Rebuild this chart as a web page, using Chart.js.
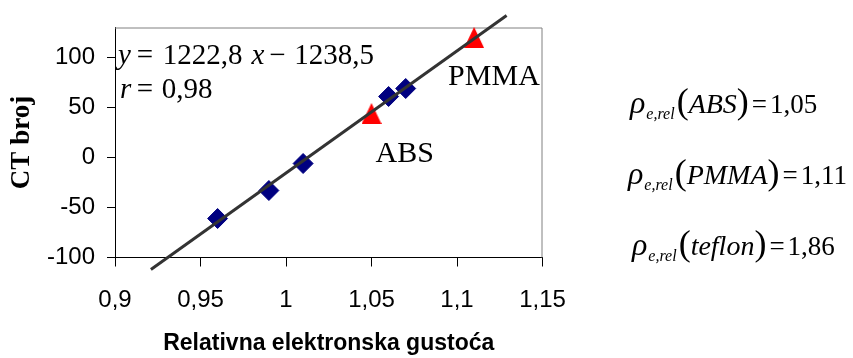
<!DOCTYPE html>
<html lang="hr">
<head>
<meta charset="UTF-8">
<title>CT broj - relativna elektronska gustoća</title>
<script src="https://cdn.jsdelivr.net/npm/chart.js@4.4.0/dist/chart.umd.min.js"></script>
<style>
    body { margin: 0; background: #fff; }
    #ctChart { display: block; }
</style>
</head>
<body>
<canvas id="ctChart" width="853" height="358"></canvas>
<script>
    // calibration phantoms (blue diamonds)
    const phantomX = [0.96, 0.99, 1.01, 1.06, 1.07];
    const phantomCT = [-61, -33, -6, 61, 69];

    // test materials (red triangles)
    const materialNames = ['ABS', 'PMMA'];
    const materialX = [1.05, 1.11];
    const materialCT = [44, 120];

    // ends of the fitted line y = 1222,8 x - 1238,5
    const fitX = [0.921, 1.129];
    const fitCT = [-112, 142];

    const xTickValues = [0.9, 0.95, 1, 1.05, 1.1, 1.15];
    const xTickLabels = ['0,9', '0,95', '1', '1,05', '1,1', '1,15'];
    const yTickValues = [-100, -50, 0, 50, 100];

    // relative electron densities listed on the right
    const rhoMaterials = ['ABS', 'PMMA', 'teflon'];
    const rhoValues = ['1,05', '1,11', '1,86'];

    const SERIF = '"Liberation Serif", "Times New Roman", serif';
    const SANS = 'Arial, "Liberation Sans", sans-serif';

    function toPoints(xs, ys) {
        return xs.map((x, i) => ({ x: x, y: ys[i] }));
    }

    // slightly tall red triangle, like the one in the original sheet
    function makeTriangle() {
        const c = document.createElement('canvas');
        c.width = 20;
        c.height = 21;
        const g = c.getContext('2d');
        g.fillStyle = '#ff0000';
        g.beginPath();
        g.moveTo(10, 0);
        g.lineTo(20, 21);
        g.lineTo(0, 21);
        g.closePath();
        g.fill();
        return c;
    }

    // draw a row of text pieces: [text, font, baseline shift, gap after]
    function drawRuns(ctx, x, y, runs) {
        runs.forEach(r => {
            ctx.font = r[1];
            ctx.fillText(r[0], x, y + (r[2] || 0));
            x += ctx.measureText(r[0]).width + (r[3] || 0);
        });
    }

    const framePlugin = {
        id: 'frame',
        beforeDatasetsDraw(chart) {
            const ctx = chart.ctx, a = chart.chartArea;
            ctx.save();
            ctx.strokeStyle = '#808080';
            ctx.lineWidth = 1;
            ctx.beginPath();
            ctx.moveTo(a.left, a.top + 0.5);
            ctx.lineTo(a.right - 0.5, a.top + 0.5);
            ctx.lineTo(a.right - 0.5, a.bottom);
            ctx.stroke();
            ctx.restore();
        }
    };

    const textPlugin = {
        id: 'texts',
        afterDatasetsDraw(chart) {
            const ctx = chart.ctx, a = chart.chartArea;
            const it = 'italic 29px ' + SERIF, rm = '29px ' + SERIF;
            ctx.save();
            ctx.fillStyle = '#000';
            ctx.textBaseline = 'alphabetic';
            ctx.textAlign = 'left';

            // regression equation
            drawRuns(ctx, a.left + 3, a.top + 36, [
                ['y', it, 0, 6], ['=', rm, 0, 9.5], ['1222,8', rm, 0, 9],
                ['x', it, 0, 5], ['\u2212', rm, 0, 8.5], ['1238,5', rm]
            ]);
            drawRuns(ctx, a.left + 5, a.top + 70, [
                ['r', it, 0, 5.5], ['=', rm, 0, 8.5], ['0,98', rm]
            ]);

            // material names next to the triangles
            const offsets = [[4, 48], [-26, 47]];
            ctx.font = '30px ' + SERIF;
            chart.getDatasetMeta(2).data.forEach((pt, i) => {
                ctx.fillText(materialNames[i], pt.x + offsets[i][0], pt.y + offsets[i][1]);
            });

            // rho formulas on the right
            const starts = [630, 628, 632];
            rhoMaterials.forEach((m, i) => {
                drawRuns(ctx, starts[i], 113 + i * 71, [
                    ['\u03C1', 'italic 32px ' + SERIF, 0, 1],
                    ['e,rel', 'italic 16px ' + SERIF, 6, 2],
                    ['(', '36px ' + SERIF],
                    [m, 'italic 28px ' + SERIF],
                    [')', '36px ' + SERIF, 0, 3],
                    ['=', '27px ' + SERIF, 0, 3],
                    [rhoValues[i], '27px ' + SERIF]
                ]);
            });
            ctx.restore();
        }
    };

    new Chart(document.getElementById('ctChart'), {
        type: 'scatter',
        data: {
            datasets: [
                {
                    label: 'fit',
                    data: toPoints(fitX, fitCT),
                    showLine: true,
                    borderColor: '#333333',
                    borderWidth: 3,
                    pointRadius: 0,
                    clip: false
                },
                {
                    label: 'phantoms',
                    data: toPoints(phantomX, phantomCT),
                    pointStyle: 'rectRot',
                    pointRadius: 10,
                    backgroundColor: '#000080',
                    borderColor: '#000080',
                    borderWidth: 1,
                    clip: false
                },
                {
                    label: 'materials',
                    data: toPoints(materialX, materialCT),
                    pointStyle: makeTriangle(),
                    pointRadius: 10,
                    backgroundColor: '#ff0000',
                    borderColor: '#ff0000',
                    clip: false
                }
            ]
        },
        options: {
            responsive: false,
            animation: false,
            layout: { padding: { top: 27.5, right: 310.5, bottom: 0, left: 0 } },
            plugins: {
                legend: { display: false },
                tooltip: { enabled: false }
            },
            scales: {
                x: {
                    type: 'linear',
                    min: 0.9,
                    max: 1.15,
                    afterFit: s => { s.height = 100.5; },
                    afterBuildTicks: s => { s.ticks = xTickValues.map(v => ({ value: v })); },
                    grid: { drawOnChartArea: false, drawTicks: true, tickLength: 9, color: '#000' },
                    border: { color: '#000', width: 1 },
                    ticks: {
                        padding: 19,
                        color: '#000',
                        maxRotation: 0,
                        font: { family: SANS, size: 24 },
                        callback: (v, i) => xTickLabels[i]
                    },
                    title: {
                        display: true,
                        text: 'Relativna elektronska gustoća',
                        color: '#000',
                        font: { family: SANS, size: 23, weight: 'bold' },
                        padding: { top: 4, bottom: 1 }
                    }
                },
                y: {
                    min: -100,
                    max: 130,
                    afterFit: s => { s.width = 115; },
                    afterBuildTicks: s => { s.ticks = yTickValues.map(v => ({ value: v })); },
                    grid: { drawOnChartArea: false, drawTicks: true, tickLength: 8, color: '#000' },
                    border: { color: '#000', width: 1 },
                    ticks: {
                        padding: 12,
                        color: '#000',
                        font: { family: SANS, size: 24 }
                    },
                    title: {
                        display: true,
                        text: 'CT broj',
                        color: '#000',
                        font: { family: SERIF, size: 27, weight: 'bold' },
                        padding: { top: 6, bottom: 0 }
                    }
                }
            }
        },
        plugins: [framePlugin, textPlugin]
    });
</script>
</body>
</html>
